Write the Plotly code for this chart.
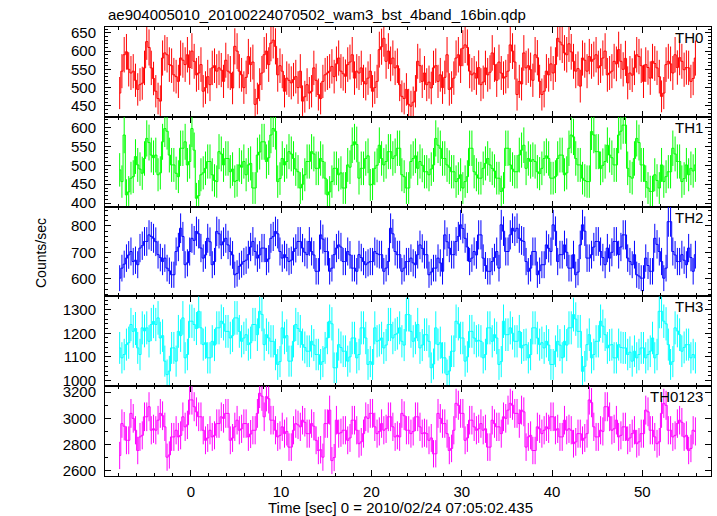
import numpy as np
import plotly.graph_objects as go
from plotly.subplots import make_subplots

# ---------------- data (counts/sec, 0.25 s bins starting at t = -8 s) ----------------
t_start = -8.0
bin_width = 0.25

th0 = [
    485, 545, 590, 598, 550, 540, 545, 520, 495, 508, 512, 554, 626, 610, 554, 525,
    490, 470, 463, 581, 595, 590, 563, 560, 535, 530, 517, 581, 575, 563, 590, 555,
    600, 572, 535, 540, 563, 490, 500, 530, 508, 554, 560, 545, 554, 548, 517, 575,
    545, 540, 499, 613, 600, 545, 535, 500, 528, 585, 563, 570, 454, 470, 508, 540,
    590, 600, 563, 622, 630, 613, 535, 560, 545, 490, 526, 520, 513, 522, 530, 500,
    545, 463, 475, 508, 485, 490, 554, 520, 481, 470, 517, 535, 540, 545, 558, 530,
    565, 581, 545, 538, 531, 563, 570, 590, 526, 545, 540, 554, 517, 510, 526, 545,
    490, 500, 517, 604, 612, 635, 572, 600, 565, 581, 554, 560, 508, 476, 470, 495,
    454, 449, 460, 490, 572, 560, 517, 540, 508, 515, 499, 554, 560, 517, 535, 500,
    528, 590, 495, 500, 526, 581, 590, 560, 608, 617, 610, 545, 535, 540, 526, 555,
    508, 515, 554, 535, 542, 595, 563, 520, 570, 540, 526, 530, 545, 617, 600, 570,
    481, 517, 510, 595, 554, 560, 549, 520, 590, 582, 517, 481, 490, 545, 535, 565,
    540, 563, 635, 625, 617, 595, 590, 620, 598, 572, 545, 552, 504, 581, 575, 545,
    585, 572, 578, 590, 554, 560, 581, 600, 535, 540, 545, 572, 565, 604, 572, 550,
    580, 513, 540, 534, 554, 590, 585, 560, 517, 563, 555, 526, 572, 566, 554, 530,
    476, 485, 563, 572, 565, 540, 590, 555, 582, 572, 549, 555, 554, 517, 525, 581,
]

th1 = [
    488, 457, 580, 422, 430, 466, 470, 523, 501, 490, 479, 518, 571, 560, 527, 520,
    527, 475, 480, 562, 597, 590, 527, 501, 501, 479, 470, 545, 545, 562, 501, 510,
    597, 540, 413, 420, 475, 480, 492, 510, 510, 475, 460, 457, 536, 530, 501, 518,
    518, 483, 490, 457, 460, 501, 495, 510, 475, 501, 505, 440, 440, 527, 535, 562,
    562, 510, 520, 580, 597, 590, 457, 465, 518, 501, 510, 536, 530, 518, 490, 483,
    440, 450, 475, 510, 510, 536, 530, 492, 492, 518, 510, 466, 422, 430, 457, 492,
    492, 475, 480, 440, 440, 501, 495, 553, 562, 555, 466, 492, 492, 518, 525, 448,
    450, 492, 500, 553, 518, 501, 510, 536, 536, 518, 525, 545, 545, 475, 470, 440,
    440, 510, 518, 525, 492, 510, 500, 483, 483, 475, 490, 501, 571, 553, 545, 518,
    518, 501, 495, 483, 483, 457, 465, 475, 440, 457, 470, 545, 545, 483, 475, 466,
    466, 492, 505, 518, 501, 492, 485, 466, 466, 431, 440, 545, 545, 501, 490, 483,
    483, 527, 540, 553, 492, 518, 510, 515, 510, 483, 478, 492, 518, 525, 518, 466,
    466, 470, 518, 527, 527, 475, 480, 545, 580, 575, 518, 501, 501, 466, 460, 457,
    457, 589, 580, 536, 536, 492, 500, 510, 553, 527, 520, 501, 501, 580, 590, 606,
    606, 492, 470, 466, 518, 571, 560, 501, 501, 457, 440, 431, 431, 475, 460, 440,
    501, 457, 470, 483, 483, 545, 530, 510, 510, 457, 465, 501, 475, 492, 485, 501,
]

th2 = [
    602, 640, 655, 678, 690, 703, 665, 670, 653, 716, 725, 741, 741, 766, 760, 753,
    740, 691, 680, 665, 678, 640, 630, 615, 615, 703, 720, 791, 760, 653, 660, 703,
    753, 745, 779, 770, 716, 678, 690, 753, 740, 653, 665, 779, 770, 728, 740, 753,
    728, 703, 690, 615, 620, 647, 655, 665, 670, 691, 720, 741, 703, 678, 690, 716,
    716, 665, 675, 753, 760, 779, 770, 703, 678, 691, 680, 665, 670, 703, 715, 741,
    741, 716, 700, 691, 741, 703, 690, 628, 628, 766, 750, 703, 703, 628, 640, 691,
    716, 728, 720, 665, 665, 703, 690, 640, 640, 628, 691, 680, 665, 653, 660, 665,
    665, 703, 695, 691, 691, 628, 640, 665, 791, 770, 703, 691, 691, 628, 640, 665,
    665, 678, 660, 653, 691, 728, 715, 691, 691, 615, 625, 640, 640, 678, 660, 628,
    766, 740, 716, 691, 691, 741, 760, 804, 790, 753, 720, 665, 678, 703, 690, 766,
    766, 678, 650, 628, 628, 665, 680, 703, 640, 804, 780, 703, 703, 766, 791, 780,
    791, 753, 745, 741, 665, 628, 640, 703, 703, 615, 630, 653, 653, 728, 715, 703,
    804, 780, 665, 691, 691, 728, 700, 640, 640, 691, 615, 625, 728, 804, 780, 678,
    678, 691, 720, 741, 741, 703, 680, 653, 716, 678, 700, 741, 741, 691, 720, 766,
    766, 678, 665, 653, 691, 615, 610, 602, 602, 678, 650, 628, 628, 753, 730, 703,
    665, 602, 640, 816, 816, 703, 690, 665, 665, 691, 670, 653, 716, 680, 628, 691,
]

th3 = [
    1138, 1096, 1110, 1152, 1160, 1237, 1208, 1220, 1138, 1110, 1223, 1210, 1223, 1166, 1237, 1250,
    1237, 1265, 1180, 1190, 1082, 1025, 1040, 1138, 1138, 1082, 1208, 1190, 1265, 1096, 1110, 1251,
    1251, 1237, 1220, 1293, 1223, 1152, 1160, 1096, 1096, 1166, 1150, 1223, 1223, 1251, 1240, 1208,
    1208, 1180, 1190, 1265, 1265, 1208, 1166, 1180, 1194, 1152, 1160, 1237, 1237, 1194, 1293, 1280,
    1152, 1194, 1180, 1166, 1166, 1110, 1068, 1080, 1223, 1180, 1190, 1082, 1082, 1166, 1237, 1220,
    1208, 1152, 1140, 1124, 1124, 1166, 1150, 1110, 1110, 1068, 1080, 1138, 1180, 1251, 1240, 1054,
    1054, 1152, 1140, 1124, 1124, 1082, 1100, 1180, 1180, 1096, 1110, 1223, 1223, 1180, 1068, 1080,
    1068, 1223, 1166, 1170, 1180, 1138, 1150, 1237, 1237, 1180, 1194, 1200, 1223, 1166, 1150, 1279,
    1279, 1208, 1166, 1180, 1237, 1138, 1150, 1194, 1194, 1166, 1054, 1070, 1223, 1152, 1160, 1096,
    1096, 1025, 1040, 1124, 1124, 1251, 1240, 1180, 1180, 1082, 1100, 1208, 1208, 1180, 1166, 1170,
    1166, 1096, 1110, 1223, 1223, 1166, 1194, 1180, 1068, 1080, 1251, 1194, 1194, 1223, 1200, 1166,
    1166, 1208, 1138, 1150, 1152, 1096, 1110, 1223, 1223, 1180, 1152, 1160, 1138, 1166, 1150, 1068,
    1068, 1124, 1166, 1150, 1096, 1166, 1150, 1223, 1223, 1279, 1260, 1208, 1208, 1039, 1060, 1152,
    1194, 1096, 1110, 1166, 1166, 1251, 1230, 1194, 1138, 1150, 1152, 1096, 1096, 1152, 1140, 1138,
    1138, 1110, 1120, 1082, 1124, 1096, 1110, 1138, 1138, 1096, 1110, 1124, 1180, 1096, 1110, 1293,
    1293, 1251, 1240, 1152, 1068, 1080, 1223, 1210, 1194, 1124, 1140, 1152, 1152, 1096, 1110, 1096,
]

th0123 = [
    2716, 2960, 2940, 2832, 2832, 3038, 3000, 2909, 2754, 2858, 2870, 3012, 3012, 3089, 2909, 2920,
    2909, 2986, 3038, 3020, 2935, 2703, 2720, 2858, 2858, 2909, 2858, 2870, 3012, 2935, 2950, 3141,
    3141, 3089, 3050, 3012, 3012, 2909, 2832, 2850, 2909, 2858, 2870, 2960, 2960, 3012, 3000, 3038,
    3038, 2832, 2850, 2935, 2986, 2909, 2920, 2960, 2960, 2858, 2880, 2909, 2909, 3038, 3192, 3170,
    3012, 3166, 3150, 2986, 2986, 2909, 2858, 2870, 2935, 2883, 2900, 2780, 2780, 2909, 2960, 2950,
    2935, 2986, 2970, 2883, 2883, 2960, 2940, 2832, 2754, 2760, 2703, 2960, 2960, 3063, 2677, 2700,
    2986, 2883, 2890, 2909, 2909, 2832, 2850, 2986, 2986, 2909, 2806, 2820, 2883, 3012, 3000, 3038,
    3038, 2935, 2883, 2900, 2960, 2909, 2920, 3012, 3012, 2935, 2858, 2870, 2858, 3038, 3020, 2909,
    2909, 2883, 2900, 3012, 3012, 2935, 2883, 2890, 2883, 2832, 2850, 2729, 2729, 3038, 3000, 2960,
    2960, 2883, 2754, 2770, 2909, 3115, 3100, 3038, 3038, 2832, 2850, 2986, 2986, 2935, 2909, 2920,
    2960, 2909, 2920, 2780, 2780, 2986, 2960, 2935, 2935, 2883, 3012, 3000, 3063, 3115, 3100, 3038,
    3038, 2960, 3063, 3050, 2780, 2858, 2870, 2754, 2754, 2935, 2920, 2883, 2909, 2935, 2920, 3012,
    3012, 2909, 2920, 2858, 2858, 2986, 2909, 2920, 2909, 2806, 2820, 2883, 2883, 2832, 2850, 2883,
    3141, 3120, 2935, 2858, 2858, 2909, 2900, 3089, 3089, 3012, 2909, 2920, 2986, 2858, 2870, 2935,
    2935, 2832, 2850, 2883, 2909, 2806, 2820, 2883, 2883, 3063, 3050, 2909, 2909, 2858, 2806, 2820,
    3038, 3115, 3100, 2909, 2909, 2858, 2870, 2960, 2986, 2970, 2858, 2870, 2754, 2770, 2909, 2900,
]

band_names = ["TH0", "TH1", "TH2", "TH3", "TH0123"]
series = [th0, th1, th2, th3, th0123]
colors = ["#ff0000", "#00ff00", "#0000ff", "#00ffff", "#ff00ff"]
y_ranges = [[420, 666], [391, 628], [533, 873], [976, 1356], [2559, 3246]]
y_major = [50, 50, 100, 100, 200]
y_minor = [10, 10, 20, 20, 100]
x_range = [-9.5, 57.6]

title_text = "ae904005010_20100224070502_wam3_bst_4band_16bin.qdp"
x_title = "Time [sec] 0 = 2010/02/24 07:05:02.435"
y_title = "Counts/sec"

# ---------------- figure ----------------
FONT = "Liberation Sans, Arial, Helvetica, sans-serif"
W, H = 717, 516
ML, MR, MT, MB = 105, 6, 27, 40
PW, PH = W - ML - MR, H - MT - MB

fig = make_subplots(rows=5, cols=1, shared_xaxes=True, vertical_spacing=0)

for i, (vals, col) in enumerate(zip(series, colors)):
    v = np.asarray(vals, dtype=float)
    t = t_start + bin_width * (np.arange(len(v)) + 0.5)
    err = np.sqrt(v * bin_width) / bin_width  # Poisson error of each bin
    fig.add_trace(
        go.Scatter(
            x=t, y=v, mode="lines",
            line=dict(color=col, width=1, shape="hvh"),
            error_y=dict(type="data", array=err, color=col, thickness=1, width=0),
            showlegend=False, hoverinfo="skip",
        ),
        row=i + 1, col=1,
    )

    fig.update_xaxes(
        range=x_range, showline=True, linecolor="black", linewidth=1,
        mirror="allticks", ticks="inside", ticklen=6, tickcolor="black", tickwidth=1,
        tick0=0, dtick=10, showgrid=False, zeroline=False,
        minor=dict(tick0=0, dtick=2, ticks="inside", ticklen=3, tickcolor="black", showgrid=False),
        showticklabels=(i == 4), ticklabelstandoff=2,
        tickfont=dict(family=FONT, size=15, color="black"),
        row=i + 1, col=1,
    )
    fig.update_yaxes(
        range=y_ranges[i], showline=True, linecolor="black", linewidth=1,
        mirror="allticks", ticks="inside", ticklen=6, tickcolor="black", tickwidth=1,
        tick0=0, dtick=y_major[i], showgrid=False, zeroline=False,
        minor=dict(tick0=0, dtick=y_minor[i], ticks="inside", ticklen=3, tickcolor="black", showgrid=False),
        ticklabelstandoff=5,
        tickfont=dict(family=FONT, size=15, color="black"),
        row=i + 1, col=1,
    )

    suffix = "" if i == 0 else str(i + 1)
    fig.add_annotation(
        text=band_names[i], xref="x" + suffix + " domain", yref="y" + suffix + " domain",
        x=(705 - ML) / PW, y=1 - 10.5 / (PH / 5), xanchor="right", yanchor="middle",
        showarrow=False, font=dict(family=FONT, size=15, color="black"),
    )

fig.add_annotation(
    text=title_text, xref="paper", yref="paper",
    x=(106 - ML) / PW, y=(H - MB - 14) / PH, xanchor="left", yanchor="middle",
    showarrow=False, font=dict(family=FONT, size=15, color="black"),
)
fig.add_annotation(
    text=x_title, xref="paper", yref="paper",
    x=(400 - ML) / PW, y=(H - MB - 507) / PH, xanchor="center", yanchor="middle",
    showarrow=False, font=dict(family=FONT, size=15, color="black"),
)
fig.add_annotation(
    text=y_title, xref="paper", yref="paper",
    x=(41 - ML) / PW, y=(H - MB - 253) / PH, xanchor="center", yanchor="middle",
    textangle=-90, showarrow=False, font=dict(family=FONT, size=14, color="black"),
)

fig.update_layout(
    width=W, height=H, margin=dict(l=ML, r=MR, t=MT, b=MB, pad=0),
    paper_bgcolor="white", plot_bgcolor="white",
    font=dict(family=FONT, size=15, color="black"),
)

fig.write_html(
    "out.html",
    config={"displayModeBar": False, "staticPlot": True},
    post_script="document.body.style.margin='0';document.body.style.padding='0';",
)
